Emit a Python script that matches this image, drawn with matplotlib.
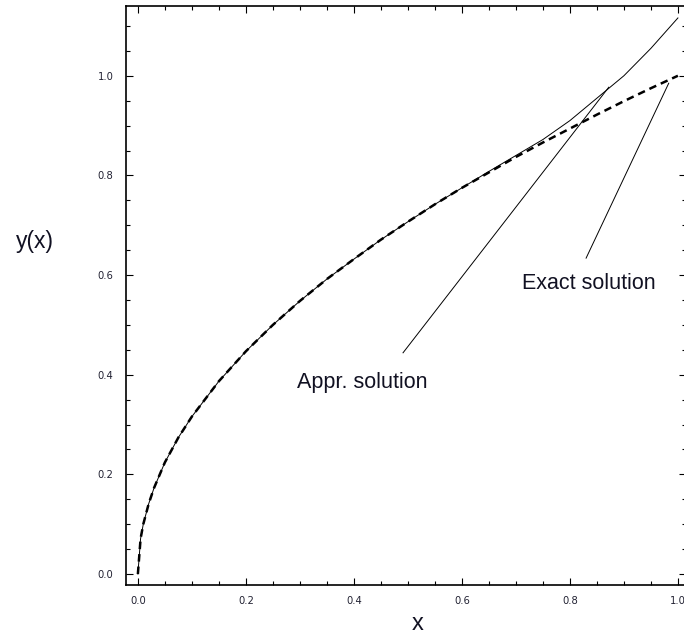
import matplotlib
matplotlib.use("Agg")
import matplotlib.pyplot as plt
from matplotlib.ticker import MultipleLocator

# exact solution
x_exact = [0.0, 0.005, 0.01, 0.02, 0.03, 0.05, 0.075, 0.1, 0.15, 0.2, 0.25, 0.3, 0.35,
           0.4, 0.45, 0.5, 0.55, 0.6, 0.65, 0.7, 0.75, 0.8, 0.85, 0.9, 0.95, 1.0]
y_exact = [0.0, 0.071, 0.1, 0.141, 0.173, 0.224, 0.274, 0.316, 0.387, 0.447, 0.5, 0.548, 0.592,
           0.632, 0.671, 0.707, 0.742, 0.775, 0.806, 0.837, 0.866, 0.894, 0.922, 0.949, 0.975, 1.0]

# approximate solution, drifts above the exact one past x ~ 0.65
x_appr = [0.0, 0.005, 0.01, 0.02, 0.03, 0.05, 0.075, 0.1, 0.15, 0.2, 0.25, 0.3, 0.35,
          0.4, 0.45, 0.5, 0.55, 0.6, 0.65, 0.7, 0.75, 0.8, 0.85, 0.9, 0.95, 1.0]
y_appr = [0.0, 0.071, 0.1, 0.141, 0.173, 0.224, 0.274, 0.316, 0.387, 0.447, 0.5, 0.548, 0.592,
          0.632, 0.671, 0.707, 0.742, 0.775, 0.808, 0.840, 0.872, 0.910, 0.955, 1.0, 1.055, 1.116]

# leader lines: (label pos, line start, line end)
exact_label = (0.835, 0.584)
exact_lead = ((0.830, 0.634), (0.983, 0.985))
appr_label = (0.415, 0.384)
appr_lead = ((0.491, 0.444), (0.872, 0.977))

fig = plt.figure(figsize=(6.84, 6.34), dpi=100)
ax = fig.add_axes([126 / 684, 49 / 634, 560 / 684, 579 / 634])

ax.plot(x_appr, y_appr, color="black", lw=0.7)
ax.plot(x_exact, y_exact, color="black", lw=1.8, dashes=(3, 2))

ax.set_xlim(-0.022, 1.015)
ax.set_ylim(-0.022, 1.14)

ax.xaxis.set_major_locator(MultipleLocator(0.2))
ax.xaxis.set_minor_locator(MultipleLocator(0.05))
ax.yaxis.set_major_locator(MultipleLocator(0.2))
ax.yaxis.set_minor_locator(MultipleLocator(0.05))
ax.xaxis.set_major_formatter(lambda v, p: f"{v:.1f}")
ax.yaxis.set_major_formatter(lambda v, p: f"{v:.1f}")
ax.tick_params(which="both", direction="in", top=True, right=True, width=0.8)
ax.tick_params(which="major", length=5, labelsize=7.2, labelcolor="#222233")
ax.tick_params(axis="x", which="major", pad=8)
ax.tick_params(axis="y", which="major", pad=9)
ax.tick_params(which="minor", length=3)
for s in ax.spines.values():
    s.set_linewidth(1.2)

ax.text(0.521, -0.0775, "x", transform=ax.transAxes, ha="center", va="baseline",
        fontsize=17, family="Liberation Sans", color="#111122")
fig.text(35 / 684, 1 - 241 / 634, "y(x)", ha="center", va="center",
         fontsize=16.5, family="Liberation Sans", color="#111122")

for label, text, lead in [("Exact solution", exact_label, exact_lead),
                          ("Appr. solution", appr_label, appr_lead)]:
    (x0, y0), (x1, y1) = lead
    ax.plot([x0, x1], [y0, y1], color="black", lw=0.7)
    ax.text(text[0], text[1], label, ha="center", va="center",
            fontsize=15.5, family="Liberation Sans", color="#111122")

fig.savefig("out.png", dpi=100)
